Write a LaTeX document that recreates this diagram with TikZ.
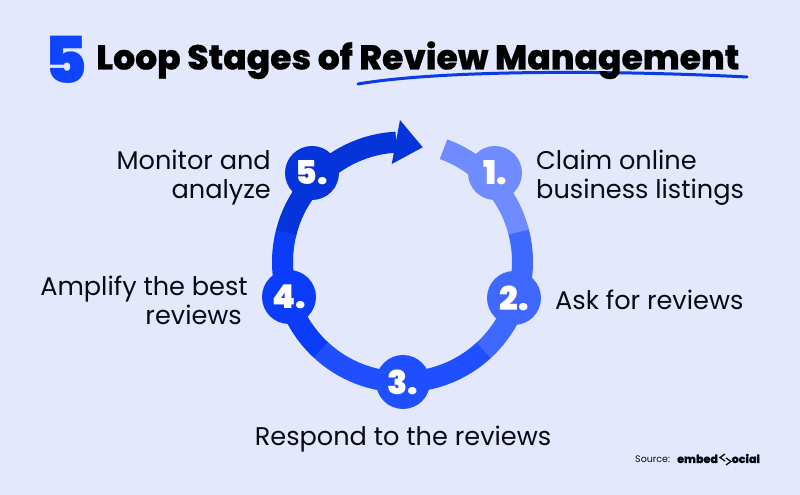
\documentclass[tikz,border=0pt]{standalone}
\usepackage{fontspec}
\setmainfont{Poppins}
\newfontfamily\heavyfont[FakeBold=0.6]{Poppins ExtraBold}
\newfontfamily\blackfont{Poppins Black}
\definecolor{bgc}{HTML}{E3E8FD}
\definecolor{segA}{HTML}{6F8BFF}
\definecolor{segB}{HTML}{3F68FF}
\definecolor{segC}{HTML}{1F4FFF}
\definecolor{segD}{HTML}{0A3CFA}
\definecolor{segE}{HTML}{0434DA}
\definecolor{inkc}{HTML}{0A0A14}
\definecolor{blue5}{HTML}{0F44FF}
\definecolor{ulc}{HTML}{0B3BE6}
\tikzset{
  x=1bp,y=1bp,
  band/.style={line width=21bp},
  stage/.style={circle,minimum size=54bp,inner sep=0pt,text=white,font=\blackfont\fontsize{33}{33}\selectfont},
  lab/.style={inner sep=0pt,text=inkc,font=\fontsize{25.7}{29.2}\selectfont},
  srcb/.style={anchor=base west,inner sep=0pt,text=inkc,font=\heavyfont\fontsize{11.2}{12}\selectfont},
}
\begin{document}
\begin{tikzpicture}
\fill[bgc] (0,0) rectangle (800,495);
\useasboundingbox (0,0) rectangle (800,495);
\coordinate (c) at (402.5,233);
% title
\coordinate (ulA) at (358,411);
\coordinate (ulB) at (747,418);
\draw[ulc,line width=3bp,line cap=round] (ulA) .. controls (440,425) and (610,425) .. (ulB);
\node[anchor=base west,inner sep=0pt,text=blue5,font=\blackfont\fontsize{65}{65}\selectfont] (five) at (44,411.5) {5};
\node[anchor=base west,inner sep=0pt,text=black,font=\heavyfont\fontsize{34.7}{34.7}\selectfont] (title) at (96,425.5) {Loop Stages of Review Management};
% ring
\draw[band,segA] ([shift={(c)}]70:120) arc (70:14:120);
\draw[band,segB] ([shift={(c)}]14.4:120) arc (14.4:-47.9:120);
\draw[band,segC] ([shift={(c)}]-47.5:120) arc (-47.5:-133.4:120);
\draw[band,segD] ([shift={(c)}]-133:120) arc (-133:-194.5:120);
\draw[band,segE] ([shift={(c)}]-194.2:120) arc (-194.2:-267:120);
\coordinate (hA) at (400,375);
\coordinate (hB) at (391.7,331);
\coordinate (hT) at (422.7,347.7);
\fill[segE] (hA) -- (hT) -- (hB) -- cycle;
% stages
\node[stage,fill=segA] (s1) at (495,322) {1.};
\node[stage,fill=segB] (s2) at (514,197) {2.};
\node[stage,fill=segC] (s3) at (403,113) {3.};
\node[stage,fill=segD] (s4) at (289,198) {4.};
\node[stage,fill=segE] (s5) at (312,322) {5.};
% labels
\node[lab,align=left,anchor=west] (l1) at (536,317) {Claim online\\business listings};
\node[lab,anchor=west] (l2) at (555,195) {Ask for reviews};
\node[lab,anchor=center] (l3) at (403,55.5) {Respond to the reviews};
\node[lab,align=right,anchor=east] (l4) at (248,194.5) {Amplify the best\\reviews\hspace*{6bp}};
\node[lab,align=right,anchor=east] (l5) at (271,317) {Monitor and\\analyze};
% source
\node[anchor=base west,inner sep=0pt,text=inkc,font=\fontsize{9.5}{10}\selectfont] (src) at (635,32) {Source:};
\node[srcb] (emb) at (677,32) {embed};
\node[srcb] (oc) at (731.5,32) {ocial};
\draw[inkc,line width=1.3bp] (725,41) -- (720,37.5) -- (725,34);
\draw[inkc,line width=1.3bp] (726,37) -- (731,33.5) -- (726,30);
\end{tikzpicture}
\end{document}
